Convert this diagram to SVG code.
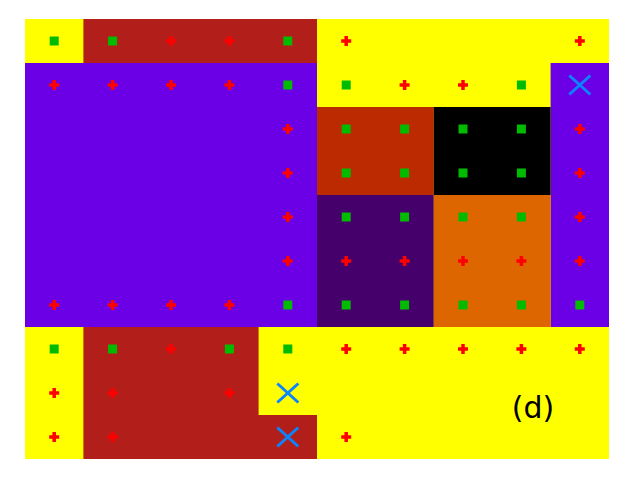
<svg xmlns="http://www.w3.org/2000/svg" xmlns:xlink="http://www.w3.org/1999/xlink" width="640" height="480" viewBox="0 0 640 480">
<style>
.lbl{font-family:"DejaVu Sans","Liberation Sans",sans-serif;font-size:30px;fill:#000}
</style>
<defs>
<g id="g"><rect x="-4.5" y="-4.5" width="9" height="9" fill="#00BB00"/></g>
<g id="p"><rect x="-5" y="-1.75" width="10" height="3.5" fill="#FF0000"/><rect x="-1.75" y="-5" width="3.5" height="10" fill="#FF0000"/></g>
<g id="x"><path d="M-10.5,-9.5 L10.5,9.5 M-10.5,9.5 L10.5,-9.5" stroke="#0A84FF" stroke-width="3" fill="none"/></g>
</defs>
<rect width="640" height="480" fill="#FFFFFF"/>
<g id="regions">
<rect x="25" y="19" width="584" height="440" fill="#FFFF00"/>
<rect x="83.4" y="19" width="233.6" height="44" fill="#B21E1A"/>
<rect x="25" y="63" width="292" height="264" fill="#6B00E6"/>
<rect x="550.6" y="63" width="58.4" height="264" fill="#6B00E6"/>
<rect x="317" y="107" width="116.8" height="88" fill="#BB2A00"/>
<rect x="433.8" y="107" width="116.8" height="88" fill="#000000"/>
<rect x="317" y="195" width="116.8" height="132" fill="#46006B"/>
<rect x="433.8" y="195" width="116.8" height="132" fill="#DD6600"/>
<path d="M83.4,327 H258.6 V415 H317 V459 H83.4 Z" fill="#B21E1A"/>
</g>
<g id="markers">
<use xlink:href="#g" x="54.2" y="41"/><use xlink:href="#g" x="112.6" y="41"/><use xlink:href="#p" x="171" y="41"/><use xlink:href="#p" x="229.4" y="41"/><use xlink:href="#g" x="287.8" y="41"/><use xlink:href="#p" x="346.2" y="41"/><use xlink:href="#p" x="579.8" y="41"/>
<use xlink:href="#p" x="54.2" y="85"/><use xlink:href="#p" x="112.6" y="85"/><use xlink:href="#p" x="171" y="85"/><use xlink:href="#p" x="229.4" y="85"/><use xlink:href="#g" x="287.8" y="85"/><use xlink:href="#g" x="346.2" y="85"/><use xlink:href="#p" x="404.6" y="85"/><use xlink:href="#p" x="463" y="85"/><use xlink:href="#g" x="521.4" y="85"/><use xlink:href="#x" x="579.8" y="85"/>
<use xlink:href="#p" x="287.8" y="129"/><use xlink:href="#g" x="346.2" y="129"/><use xlink:href="#g" x="404.6" y="129"/><use xlink:href="#g" x="463" y="129"/><use xlink:href="#g" x="521.4" y="129"/><use xlink:href="#p" x="579.8" y="129"/>
<use xlink:href="#p" x="287.8" y="173"/><use xlink:href="#g" x="346.2" y="173"/><use xlink:href="#g" x="404.6" y="173"/><use xlink:href="#g" x="463" y="173"/><use xlink:href="#g" x="521.4" y="173"/><use xlink:href="#p" x="579.8" y="173"/>
<use xlink:href="#p" x="287.8" y="217"/><use xlink:href="#g" x="346.2" y="217"/><use xlink:href="#g" x="404.6" y="217"/><use xlink:href="#g" x="463" y="217"/><use xlink:href="#g" x="521.4" y="217"/><use xlink:href="#p" x="579.8" y="217"/>
<use xlink:href="#p" x="287.8" y="261"/><use xlink:href="#p" x="346.2" y="261"/><use xlink:href="#p" x="404.6" y="261"/><use xlink:href="#p" x="463" y="261"/><use xlink:href="#p" x="521.4" y="261"/><use xlink:href="#p" x="579.8" y="261"/>
<use xlink:href="#p" x="54.2" y="305"/><use xlink:href="#p" x="112.6" y="305"/><use xlink:href="#p" x="171" y="305"/><use xlink:href="#p" x="229.4" y="305"/><use xlink:href="#g" x="287.8" y="305"/><use xlink:href="#g" x="346.2" y="305"/><use xlink:href="#g" x="404.6" y="305"/><use xlink:href="#g" x="463" y="305"/><use xlink:href="#g" x="521.4" y="305"/><use xlink:href="#g" x="579.8" y="305"/>
<use xlink:href="#g" x="54.2" y="349"/><use xlink:href="#g" x="112.6" y="349"/><use xlink:href="#p" x="171" y="349"/><use xlink:href="#g" x="229.4" y="349"/><use xlink:href="#g" x="287.8" y="349"/><use xlink:href="#p" x="346.2" y="349"/><use xlink:href="#p" x="404.6" y="349"/><use xlink:href="#p" x="463" y="349"/><use xlink:href="#p" x="521.4" y="349"/><use xlink:href="#p" x="579.8" y="349"/>
<use xlink:href="#p" x="54.2" y="393"/><use xlink:href="#p" x="112.6" y="393"/><use xlink:href="#p" x="229.4" y="393"/><use xlink:href="#x" x="287.8" y="393"/>
<use xlink:href="#p" x="54.2" y="437"/><use xlink:href="#p" x="112.6" y="437"/><use xlink:href="#x" x="287.8" y="437"/><use xlink:href="#p" x="346.2" y="437"/>
</g>
<text class="lbl" x="533" y="418" text-anchor="middle">(d)</text>
</svg>
